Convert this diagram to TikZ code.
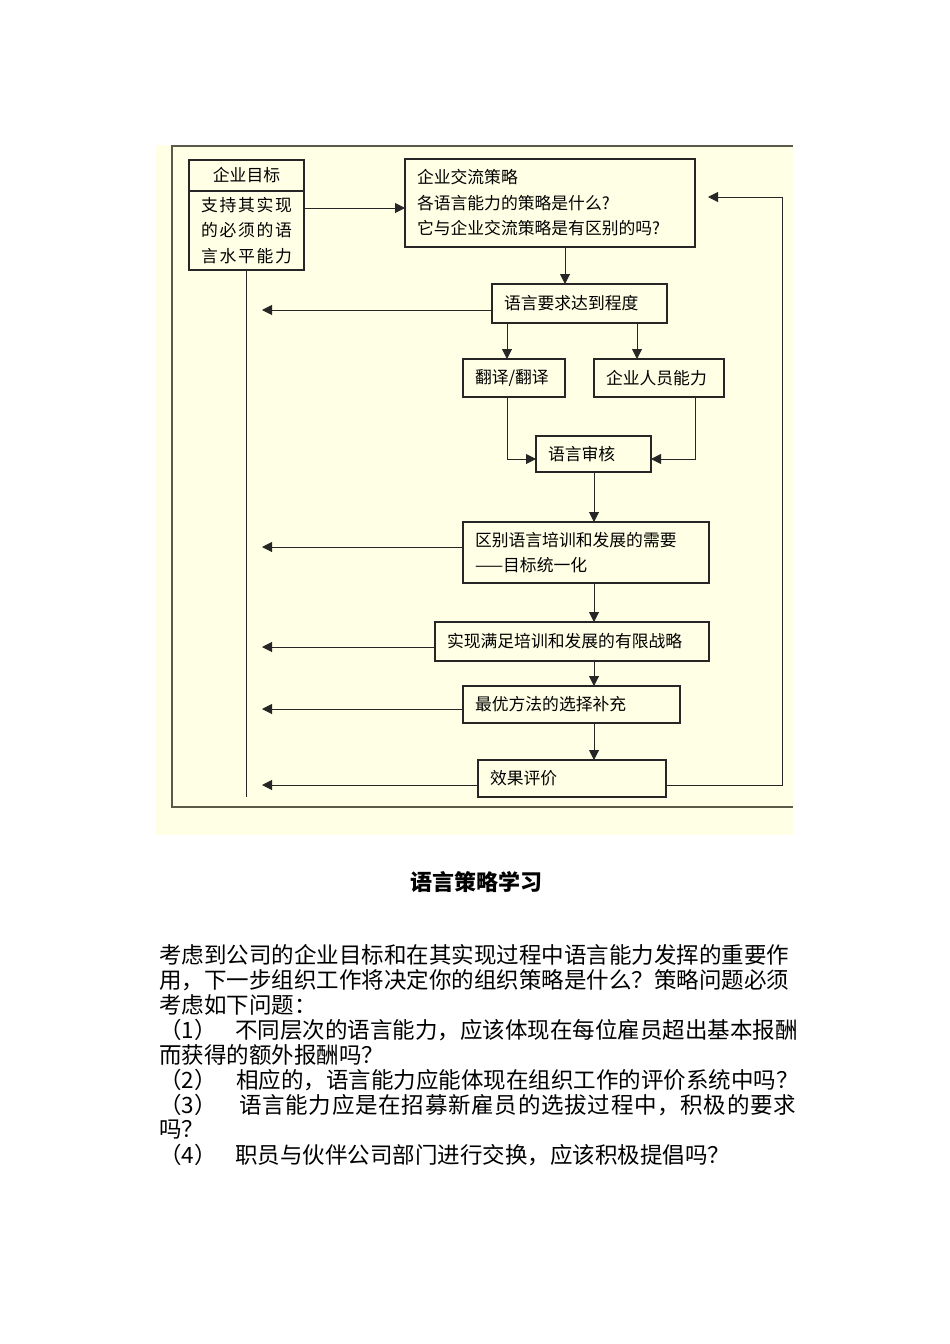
\documentclass[tikz,border=0pt]{standalone}
\usepackage{fontspec}
\newfontfamily\cjk{Noto Sans CJK SC}
\usetikzlibrary{arrows.meta}
\definecolor{panelc}{HTML}{FFFFE6}
\definecolor{framec}{HTML}{5A5A48}
\definecolor{linec}{HTML}{262626}
\newcommand\dgfont{\cjk\fontsize{16.8}{25.5}\selectfont}
\newcommand\bodyfont{\cjk\fontsize{22.5}{25}\selectfont}
\makeatletter
\newcommand\jline[2]{\makebox[#1][s]{\@tfor\jl@tok:=#2\do{\jl@tok\hfil}\unskip}}
\makeatother
\tikzset{
  box/.style={draw=linec, fill=panelc, line width=1.2pt, anchor=north west,
    inner xsep=12pt, inner ysep=0pt, align=left, font=\dgfont, outer sep=0pt},
  arr/.style={draw=linec, line width=1pt, -{Triangle[length=10pt,width=10pt]}},
  ln/.style={draw=linec, line width=1pt},
  bodytxt/.style={anchor=west, inner sep=0pt, font=\bodyfont}
}
\begin{document}
\begin{tikzpicture}[x=1pt,y=-1pt]
\fill[white] (0,0) rectangle (950,1344);
\useasboundingbox (0,0) rectangle (950,1344);
\fill[panelc] (156,145) rectangle (793,835);
\draw[framec, line width=2.2pt] (793,146) -- (172,146) -- (172,807) -- (793,807);

\node[box, minimum width=115pt, minimum height=31pt, text width=91pt, align=center] (Ahead) at (189,160) {企业目标};
\node[box, minimum width=115pt, minimum height=79pt, text width=91pt] (Abody) at (189,191)
  {\jline{91pt}{支持其实现}\\\jline{91pt}{的必须的语}\\\jline{91pt}{言水平能力}};
\node[box, minimum width=290pt, minimum height=88pt, text width=266pt] (B) at (405,159)
  {企业交流策略\\各语言能力的策略是什么?\\它与企业交流策略是有区别的吗?};
\node[box, minimum width=175pt, minimum height=39pt, text width=151pt] (C) at (492,284) {语言要求达到程度};
\node[box, minimum width=102pt, minimum height=38pt, text width=78pt] (D) at (463,359) {翻译/翻译};
\node[box, minimum width=130pt, minimum height=38pt, text width=106pt] (E) at (594,359) {企业人员能力};
\node[box, minimum width=115pt, minimum height=36pt, text width=91pt] (F) at (536,436) {语言审核};
\node[box, minimum width=246pt, minimum height=61pt, text width=222pt] (G) at (463,522)
  {区别语言培训和发展的需要\\——目标统一化};
\node[box, minimum width=274pt, minimum height=39pt, text width=250pt] (H) at (435,622) {实现满足培训和发展的有限战略};
\node[box, minimum width=217pt, minimum height=37pt, text width=193pt] (I) at (463,686) {最优方法的选择补充};
\node[box, minimum width=188pt, minimum height=37pt, text width=164pt] (J) at (478,760) {效果评价};

\coordinate (tipL) at (262,0);
\coordinate (fbtip) at (708,197);

\draw[arr] (Abody.east |- 0,208) -- (B.west |- 0,208);
\draw[ln] (Abody.south) -- (Abody.south |- 0,797);
\draw[arr] (B.south -| 565,0) -- (C.north -| 565,0);
\draw[arr] (C.west |- 0,310) -- (tipL |- 0,310);
\draw[arr] (C.south -| 507,0) -- (D.north -| 507,0);
\draw[arr] (C.south -| 637,0) -- (E.north -| 637,0);
\draw[arr] (D.south -| 507,0) |- (F.west |- 0,459);
\draw[arr] (E.south -| 695,0) |- (F.east |- 0,459);
\draw[arr] (F.south -| 594,0) -- (G.north -| 594,0);
\draw[arr] (G.west |- 0,547) -- (tipL |- 0,547);
\draw[arr] (G.south -| 594,0) -- (H.north -| 594,0);
\draw[arr] (H.west |- 0,647) -- (tipL |- 0,647);
\draw[arr] (H.south -| 594,0) -- (I.north -| 594,0);
\draw[arr] (I.west |- 0,709) -- (tipL |- 0,709);
\draw[arr] (I.south -| 594,0) -- (J.north -| 594,0);
\draw[arr] (J.west |- 0,785) -- (tipL |- 0,785);
\draw[arr] (J.east |- 0,785) -| (782,197) -- (fbtip);

\node[font=\cjk\bfseries\fontsize{22}{26}\selectfont] (title) at (476,882) {语言策略学习};

\node[bodytxt] (t1) at (159,955) {考虑到公司的企业目标和在其实现过程中语言能力发挥的重要作};
\node[bodytxt] (t2) at (159,980) {用，下一步组织工作将决定你的组织策略是什么？策略问题必须};
\node[bodytxt] (t3) at (159,1005) {考虑如下问题：};
\node[bodytxt] (t4) at (159,1030) {\makebox[76pt][l]{（1）}不同层次的语言能力，应该体现在每位雇员超出基本报酬};
\node[bodytxt] (t5) at (159,1055) {而获得的额外报酬吗？};
\node[bodytxt] (t6) at (159,1080) {\makebox[77pt][l]{（2）}相应的，语言能力应能体现在组织工作的评价系统中吗？};
\node[bodytxt] (t7) at (159,1105) {\makebox[80pt][l]{（3）}\jline{557pt}{语言能力应是在招募新雇员的选拔过程中，积极的要求}};
\node[bodytxt] (t8) at (159,1130) {吗？};
\node[bodytxt] (t9) at (159,1155) {\makebox[76pt][l]{（4）}职员与伙伴公司部门进行交换，应该积极提倡吗？};
\end{tikzpicture}
\end{document}
